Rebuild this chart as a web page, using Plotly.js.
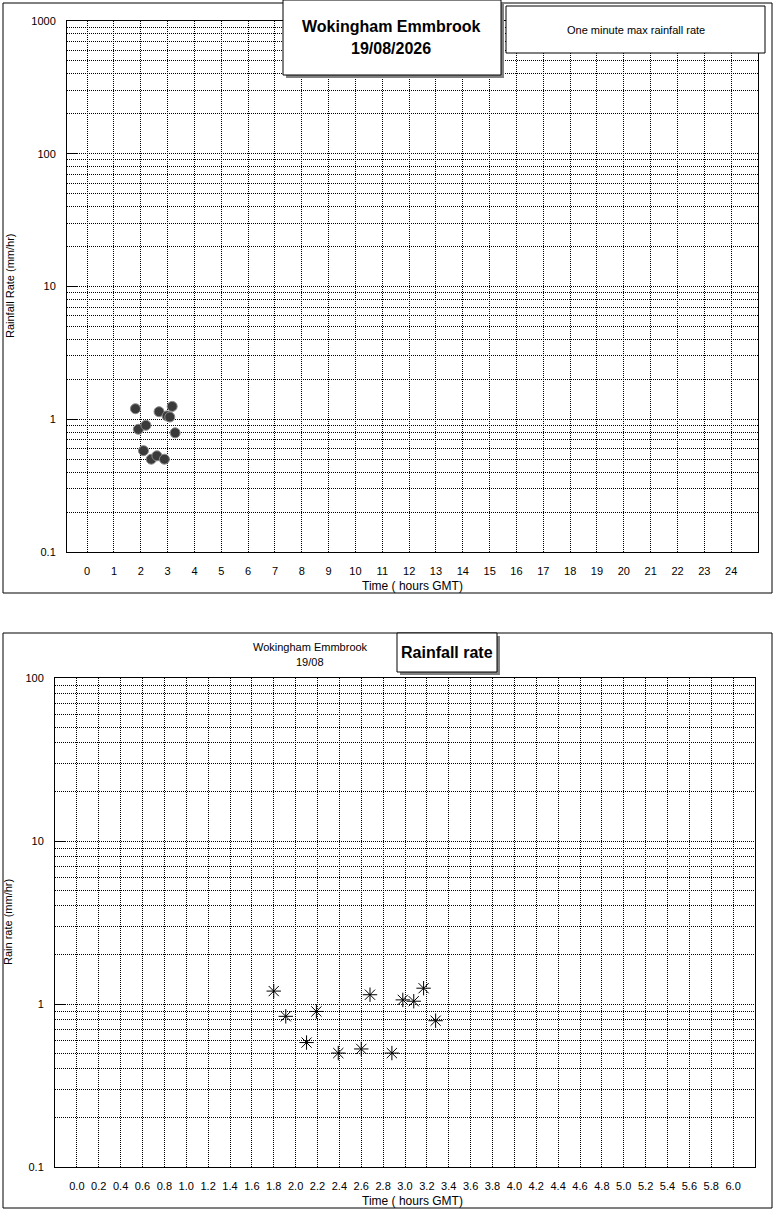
<!DOCTYPE html>
<html>
<head>
<meta charset="utf-8">
<script src="https://cdn.plot.ly/plotly-3.0.1.min.js"></script>
<style>
  body { margin:0; padding:0; background:white; }
  #chart { width:775px; height:1210px; }
</style>
</head>
<body>
<div id="chart"></div>
<script>
// one minute max rainfall rate, 19/08
const rainTimes = [1.80, 1.91, 2.10, 2.19, 2.39, 2.60, 2.68, 2.88, 2.98, 3.08, 3.17, 3.28];
const rainRates = [1.20, 0.84, 0.58, 0.90, 0.50, 0.53, 1.14, 0.50, 1.06, 1.04, 1.25, 0.79];

// tick labels
const dayHours = [0,1,2,3,4,5,6,7,8,9,10,11,12,13,14,15,16,17,18,19,20,21,22,23,24];
const zoomHours = [0.0,0.2,0.4,0.6,0.8,1.0,1.2,1.4,1.6,1.8,2.0,2.2,2.4,2.6,2.8,3.0,
                   3.2,3.4,3.6,3.8,4.0,4.2,4.4,4.6,4.8,5.0,5.2,5.4,5.6,5.8,6.0];
const zoomHourLabels = zoomHours.map(v => v.toFixed(1));
const dayRateTicks = [0.1, 1, 10, 100, 1000];
const zoomRateTicks = [0.1, 1, 10, 100];

const W = 775, H = 1210;
function px(x){ return x / W; }
function py(y){ return 1 - y / H; }

const FONT = 'Liberation Sans, Arial, sans-serif';
const DOTS = '1px,1px';

function xAxis(dom, rng, vals, txt){
    return {
        domain: dom, range: rng,
        tickmode: 'array', tickvals: vals, ticktext: txt,
        showgrid: true, gridcolor: '#000', gridwidth: 1, griddash: DOTS,
        showline: true, linecolor: '#000', linewidth: 1, mirror: true,
        ticks: '', ticklabelstandoff: 9,
        zeroline: false, fixedrange: true,
        tickfont: { family: FONT, size: 11, color: '#000' }
    };
}

function yAxis(dom, rng, vals){
    return {
        type: 'log', domain: dom, range: rng,
        tickmode: 'array', tickvals: vals, ticktext: vals.map(String),
        showgrid: true, gridcolor: '#000', gridwidth: 1, griddash: DOTS,
        minor: { dtick: 'D1', showgrid: true, gridcolor: '#000', gridwidth: 1, griddash: DOTS, ticks: '' },
        showline: true, linecolor: '#000', linewidth: 1, mirror: true,
        ticks: 'inside', ticklen: 10, tickcolor: '#000', ticklabelstandoff: 8,
        zeroline: false, fixedrange: true,
        tickfont: { family: FONT, size: 11, color: '#000' }
    };
}

let traces = [
    {
        x: rainTimes, y: rainRates, xaxis: 'x', yaxis: 'y',
        mode: 'markers', type: 'scatter', name: 'One minute max rainfall rate',
        marker: { symbol: 'circle', size: 10, color: '#3a3a3a', line: { color: '#8a8a8a', width: 1 } },
        hoverinfo: 'x+y'
    },
    {
        x: rainTimes, y: rainRates, xaxis: 'x2', yaxis: 'y2',
        mode: 'markers', type: 'scatter', name: 'Rainfall rate',
        marker: { symbol: 'asterisk-open', size: 12, color: '#000', line: { color: '#000', width: 1 } },
        hoverinfo: 'x+y'
    }
];

// boxes: frames, title boxes with shadows
function rect(x0, y0, x1, y1, fill, line, layer){
    return {
        type: 'rect', xref: 'paper', yref: 'paper',
        x0: px(x0), x1: px(x1), y0: py(y1), y1: py(y0),
        fillcolor: fill, layer: layer || 'above',
        line: line ? { color: line, width: 1 } : { width: 0 }
    };
}

let shapes = [
    rect(3, 3, 772, 593, 'rgba(0,0,0,0)', '#000', 'below'),
    rect(3, 633, 772, 1208, 'rgba(0,0,0,0)', '#000', 'below'),
    // top title box
    rect(286, 3, 504, 78, '#808080', null),
    rect(283, 0, 501, 75, '#fff', '#000'),
    // legend box
    rect(506, 6, 765, 53, '#fff', '#000'),
    // bottom title box
    rect(400, 636, 500, 675, '#808080', null),
    rect(397, 633, 497, 672, '#fff', '#000')
];

function note(text, x, y, size, bold, angle){
    return {
        xref: 'paper', yref: 'paper', x: px(x), y: py(y),
        xanchor: 'center', yanchor: 'middle', showarrow: false,
        text: bold ? '<b>' + text + '</b>' : text,
        textangle: angle || 0,
        font: { family: FONT, size: size, color: '#000' }
    };
}

let annotations = [
    note('Wokingham Emmbrook', 391, 26, 16, true),
    note('19/08/2026', 391, 48, 16, true),
    note('One minute max rainfall rate', 636, 30, 11, false),
    note('Rainfall Rate (mm/hr)', 10, 286, 11, false, -90),
    note('Time ( hours GMT)', 412, 586, 12, false),
    note('Wokingham Emmbrook', 310, 647, 11, false),
    note('19/08', 310, 662, 11, false),
    note('Rainfall rate', 447, 652, 16, true),
    note('Rain rate (mm/hr)', 8, 922, 11, false, -90),
    note('Time ( hours GMT)', 412, 1201, 12, false)
];

let layout = {
    width: W, height: H,
    margin: { l: 0, r: 0, t: 0, b: 0 },
    paper_bgcolor: '#fff', plot_bgcolor: '#fff',
    showlegend: false,
    font: { family: FONT, size: 11, color: '#000' },
    xaxis:  xAxis([px(67), px(758)], [-0.75, 25], dayHours, dayHours.map(String)),
    yaxis:  Object.assign(yAxis([py(552), py(21)], [-1, 3], dayRateTicks), { anchor: 'x' }),
    xaxis2: Object.assign(xAxis([px(55), px(755)], [-0.2, 6.2], zoomHours, zoomHourLabels), { anchor: 'y2' }),
    yaxis2: Object.assign(yAxis([py(1167), py(678)], [-1, 2], zoomRateTicks), { anchor: 'x2' }),
    shapes: shapes,
    annotations: annotations
};
layout.xaxis.anchor = 'y';

let options = { staticPlot: true, displaylogo: false };
Plotly.newPlot('chart', traces, layout, options);
</script>
</body>
</html>
